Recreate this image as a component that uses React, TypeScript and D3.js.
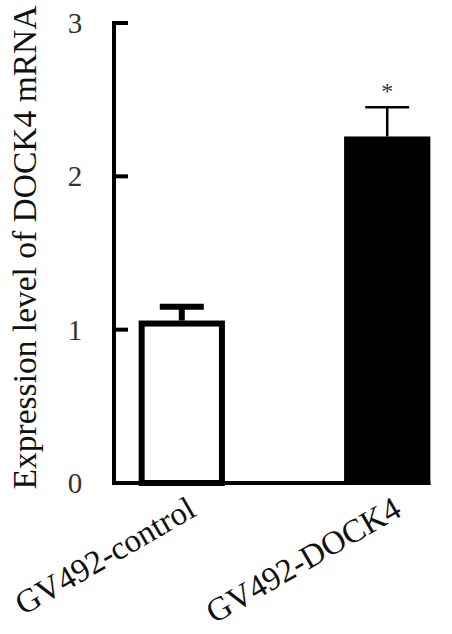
import React, { useEffect, useRef } from 'react';
import * as d3 from 'd3';

// values
const groups = ['GV492-control', 'GV492-DOCK4'];
const means = [1.04, 2.26];
const errors = [0.11, 0.19];
const yTicks = [0, 1, 2, 3];

export default function App() {
  const svgRef = useRef<SVGSVGElement | null>(null);

  useEffect(() => {
    document.body.style.margin = '0';
    const svg = d3.select(svgRef.current);
    svg.selectAll('*').remove();

    const x0 = 114;

    const y = d3.scaleLinear().domain([0, 3]).range([483, 23]);
    const x = d3.scaleBand<string>()
      .domain(groups)
      .range([x0, 455])
      .paddingInner(0.58)
      .paddingOuter(0.12);
    const bw = x.bandwidth();

    // y axis line and inward ticks
    svg.append('line')
      .attr('x1', x0).attr('x2', x0)
      .attr('y1', y(3) - 2).attr('y2', y(0) + 2)
      .attr('stroke', '#000').attr('stroke-width', 4);

    svg.selectAll('.tick')
      .data(yTicks)
      .enter().append('line')
      .attr('class', 'tick')
      .attr('x1', x0).attr('x2', x0 + 14)
      .attr('y1', d => y(d)).attr('y2', d => y(d))
      .attr('stroke', '#000').attr('stroke-width', 4);

    svg.selectAll('.tlabel')
      .data(yTicks)
      .enter().append('text')
      .attr('class', 'tlabel')
      .attr('x', 75)
      .attr('y', d => y(d) + 10)
      .attr('text-anchor', 'middle')
      .attr('font-size', 29)
      .attr('fill', '#333')
      .text(d => d);

    // axis title
    svg.append('text')
      .attr('transform', `translate(36,${(5 + 490) / 2}) rotate(-90)`)
      .attr('text-anchor', 'middle')
      .attr('font-size', 33.5)
      .attr('fill', '#111')
      .text('Expression level of DOCK4 mRNA');

    // x baseline
    const lastX = (x(groups[1]) as number) + bw;
    svg.append('line')
      .attr('x1', x0 - 2).attr('x2', lastX)
      .attr('y1', y(0)).attr('y2', y(0))
      .attr('stroke', '#000').attr('stroke-width', 4);

    // control bar: open box
    const sw = 6;
    const cx0 = x(groups[0]) as number;
    svg.append('rect')
      .attr('x', cx0 + sw / 2)
      .attr('y', y(means[0]))
      .attr('width', bw - sw)
      .attr('height', y(0) - y(means[0]))
      .attr('fill', '#fff')
      .attr('stroke', '#000')
      .attr('stroke-width', sw);

    // DOCK4 bar: solid
    const cx1 = x(groups[1]) as number;
    svg.append('rect')
      .attr('x', cx1)
      .attr('y', y(means[1]))
      .attr('width', bw)
      .attr('height', y(0) + 2 - y(means[1]))
      .attr('fill', '#000');

    // error bars
    const capW = 44;
    const ebWidth = [6, 2.5];
    groups.forEach((g, i) => {
      const c = (x(g) as number) + bw / 2;
      const top = y(means[i] + errors[i]);
      const base = y(means[i]) - (i === 0 ? sw / 2 : 0);
      svg.append('line')
        .attr('x1', c).attr('x2', c)
        .attr('y1', top).attr('y2', base)
        .attr('stroke', '#000').attr('stroke-width', ebWidth[i]);
      svg.append('line')
        .attr('x1', c - capW / 2).attr('x2', c + capW / 2)
        .attr('y1', top).attr('y2', top)
        .attr('stroke', '#000').attr('stroke-width', ebWidth[i]);
    });

    // significance mark
    const c1 = cx1 + bw / 2;
    svg.append('text')
      .attr('x', c1)
      .attr('y', y(means[1] + errors[1]) - 8)
      .attr('text-anchor', 'middle')
      .attr('font-size', 24)
      .attr('fill', '#333')
      .text('*');

    // rotated category labels
    svg.selectAll('.xlabel')
      .data(groups)
      .enter().append('text')
      .attr('class', 'xlabel')
      .attr('transform', d => `translate(${(x(d) as number) + bw / 2 + 16},515) rotate(-30)`)
      .attr('text-anchor', 'end')
      .attr('font-size', 33)
      .attr('fill', '#111')
      .text(d => d);
  }, []);

  return (
    <svg ref={svgRef} width={452} height={634} fontFamily="serif" style={{ display: 'block', background: '#fff' }} />
  );
}
